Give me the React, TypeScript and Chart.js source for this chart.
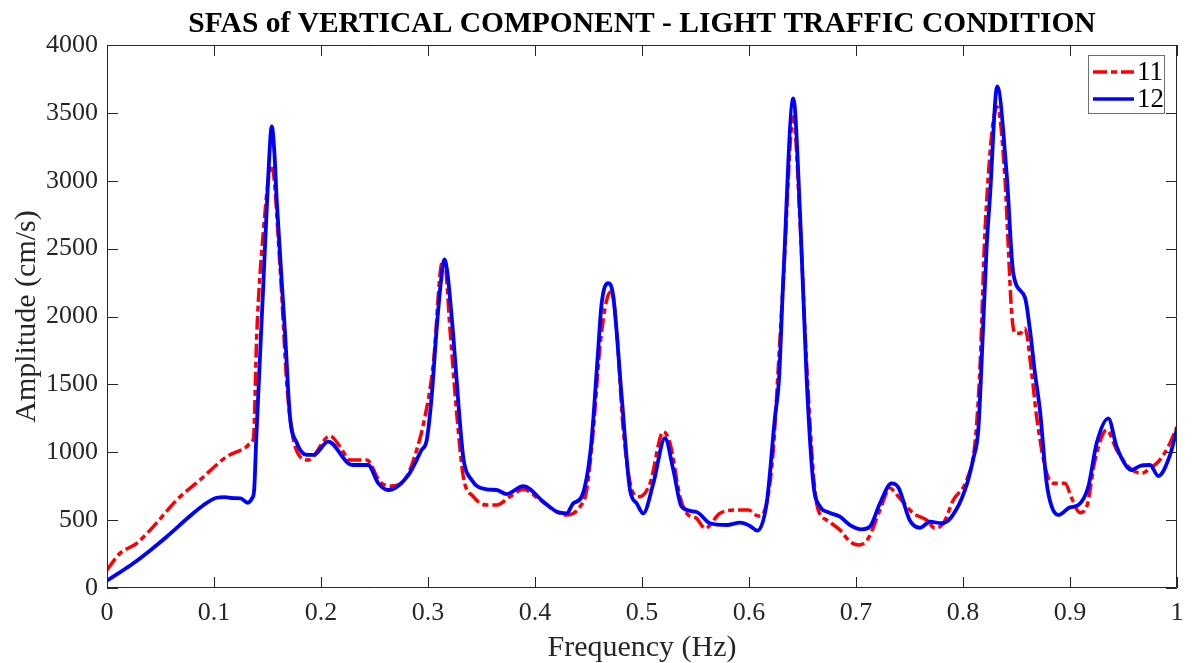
import React, { useEffect, useRef } from 'react';
import { Chart, registerables } from 'chart.js';

Chart.register(...registerables);

const TITLE = 'SFAS of VERTICAL COMPONENT - LIGHT TRAFFIC CONDITION';
const X_LABEL = 'Frequency (Hz)';
const Y_LABEL = 'Amplitude (cm/s)';
const SERIES_NAMES = ['11', '12'];
const X_TICKS = [0, 0.1, 0.2, 0.3, 0.4, 0.5, 0.6, 0.7, 0.8, 0.9, 1];
const Y_TICKS = [0, 500, 1000, 1500, 2000, 2500, 3000, 3500, 4000];

const freq11 = [
  0, 0.0121, 0.0277, 0.0433, 0.0651, 0.0869, 0.1118, 0.1305, 0.1336, 0.1368, 0.14, 0.146, 0.1539,
  0.1617, 0.168, 0.1726, 0.1804, 0.1881, 0.2084, 0.2178, 0.2271, 0.2427, 0.2551, 0.2645, 0.2722,
  0.2801, 0.2894, 0.2972, 0.305, 0.3128, 0.3153, 0.3206, 0.3268, 0.333, 0.3424, 0.3549, 0.3642,
  0.3766, 0.389, 0.4047, 0.4203, 0.4296, 0.4421, 0.4483, 0.4545, 0.4607, 0.467, 0.4716, 0.4763,
  0.4825, 0.4919, 0.4981, 0.5075, 0.5199, 0.5262, 0.5355, 0.5418, 0.551, 0.5589, 0.5729, 0.5885,
  0.5994, 0.6087, 0.6165, 0.6227, 0.6274, 0.632, 0.6414, 0.6477, 0.654, 0.6632, 0.6726, 0.685,
  0.6944, 0.7022, 0.7115, 0.7224, 0.7318, 0.7396, 0.7536, 0.766, 0.7738, 0.7816, 0.791, 0.8034,
  0.8112, 0.8159, 0.8206, 0.832, 0.8393, 0.8423, 0.8455, 0.8486, 0.8533, 0.8579, 0.8642, 0.8688,
  0.8782, 0.886, 0.8953, 0.9016, 0.9093, 0.9156, 0.9234, 0.9343, 0.9436, 0.9561, 0.967, 0.9748,
  0.9825, 0.9918, 1.0,
];
const amp11 = [
  133, 255, 329, 452, 648, 796, 967, 1041, 1066, 1100, 1876, 2613, 3116,
  2367, 1508, 1164, 967, 943, 1120, 1041, 943, 943, 783, 751, 759,
  820, 1017, 1262, 1655, 2392, 2410, 1900, 1287, 820, 673, 611, 611,
  673, 727, 648, 562, 538, 599, 722, 1164, 1778, 2122, 2183, 1900,
  1164, 698, 673, 771, 1151, 1066, 673, 550, 513, 440, 550, 575,
  575, 530, 624, 1017, 1630, 2250, 3472, 2700, 1630, 624, 501, 427,
  341, 317, 366, 575, 734, 673, 550, 501, 440, 477, 648, 796,
  1066, 1630, 2637, 3546, 3006, 2514, 2024, 1876, 1876, 1913, 1582, 1262,
  845, 771, 771, 661, 555, 599, 943, 1164, 1017, 882, 845, 882,
  930, 1041, 1188,
];

const freq12 = [
  0, 0.012, 0.0246, 0.04, 0.0558, 0.0776, 0.09, 0.1025, 0.11, 0.118, 0.125, 0.1315, 0.1355, 0.1375,
  0.1395, 0.146, 0.1505, 0.154, 0.1565, 0.1586, 0.1664, 0.171, 0.1773, 0.1866, 0.193, 0.2068,
  0.2255, 0.23, 0.244, 0.2536, 0.263, 0.2816, 0.294, 0.2988, 0.3034, 0.308, 0.312, 0.3153, 0.318,
  0.3237, 0.329, 0.333, 0.3408, 0.3549, 0.3642, 0.3735, 0.389, 0.4078, 0.4203, 0.4296, 0.4358,
  0.4436, 0.4523, 0.4586, 0.4623, 0.4685, 0.4732, 0.481, 0.4888, 0.495, 0.5012, 0.5106, 0.5215,
  0.5293, 0.537, 0.551, 0.5636, 0.5791, 0.5916, 0.601, 0.6078, 0.6165, 0.6243, 0.628, 0.632,
  0.6414, 0.6477, 0.6539, 0.6601, 0.6664, 0.6726, 0.685, 0.6944, 0.7053, 0.713, 0.7224, 0.7333,
  0.7396, 0.7505, 0.7598, 0.7692, 0.78, 0.7894, 0.8019, 0.8097, 0.8143, 0.8165, 0.8221, 0.8252,
  0.832, 0.8408, 0.847, 0.8579, 0.8626, 0.8673, 0.8719, 0.8782, 0.8829, 0.889, 0.9, 0.9078,
  0.9171, 0.9249, 0.9358, 0.9436, 0.953, 0.9576, 0.9654, 0.9748, 0.9825, 0.9935, 1.0,
];
const amp12 = [
  55, 115, 182, 275, 378, 530, 610, 665, 670, 662, 660, 628, 660, 720,
  1100, 2220, 3000, 3400, 3200, 2858, 1878, 1262, 1070, 980, 980, 1078,
  918, 906, 906, 771, 722, 832, 1017, 1090, 1409, 1900, 2250, 2421, 2330,
  1850, 1300, 960, 796, 727, 722, 692, 751, 636, 562, 550, 624,
  673, 1041, 1704, 2097, 2245, 2146, 1409, 722, 624, 550, 771, 1103,
  869, 599, 560, 477, 464, 481, 457, 422, 624, 1262, 1532, 2269,
  3607, 2760, 1532, 771, 599, 562, 525, 464, 432, 452, 624, 771,
  740, 495, 444, 488, 477, 525, 722, 955, 1164, 1500, 2514, 2882,
  3695, 3050, 2318, 2140, 1900, 1580, 1311, 771, 599, 538, 594, 611,
  746, 1066, 1250, 1041, 894, 869, 899, 906, 825, 980, 1176,
];

const RED = '#FF0000';
const BLUE = '#0000FF';
const AXIS_COLOR = '#262626';
const FONT = "'Liberation Serif', 'Times New Roman', serif";
const RED_DASH = [14, 4, 6, 4];

const boxPlugin = {
  id: 'matlabBox',
  afterDatasetsDraw(chart: any) {
    const { ctx, chartArea: a, scales } = chart;
    ctx.save();
    ctx.strokeStyle = AXIS_COLOR;
    ctx.lineWidth = 1;
    ctx.setLineDash([]);
    ctx.beginPath();
    ctx.rect(a.left + 0.5, a.top + 0.5, a.right - a.left - 1, a.bottom - a.top - 1);
    ctx.stroke();
    const tl = 11;
    ctx.beginPath();
    X_TICKS.forEach((v) => {
      const x = Math.round(scales.x.getPixelForValue(v)) + 0.5;
      ctx.moveTo(x, a.bottom);
      ctx.lineTo(x, a.bottom - tl);
      ctx.moveTo(x, a.top);
      ctx.lineTo(x, a.top + tl);
    });
    Y_TICKS.forEach((v) => {
      const y = Math.round(scales.y.getPixelForValue(v)) + 0.5;
      ctx.moveTo(a.left, y);
      ctx.lineTo(a.left + tl, y);
      ctx.moveTo(a.right, y);
      ctx.lineTo(a.right - tl, y);
    });
    ctx.stroke();

    // legend
    const lx = 1088.5, ly = 55.5, lw = 76, lh = 58;
    ctx.fillStyle = '#FFFFFF';
    ctx.fillRect(lx, ly, lw, lh);
    ctx.strokeStyle = '#707070';
    ctx.lineWidth = 1;
    ctx.strokeRect(lx, ly, lw, lh);
    const rows = [
      { name: SERIES_NAMES[0], color: RED, dash: RED_DASH, y: 72 },
      { name: SERIES_NAMES[1], color: BLUE, dash: [], y: 99 },
    ];
    rows.forEach((r) => {
      ctx.beginPath();
      ctx.strokeStyle = r.color;
      ctx.lineWidth = 3.5;
      ctx.setLineDash(r.dash);
      ctx.moveTo(1093, r.y);
      ctx.lineTo(1134, r.y);
      ctx.stroke();
      ctx.setLineDash([]);
      ctx.fillStyle = '#000000';
      ctx.font = `27px ${FONT}`;
      ctx.textAlign = 'left';
      ctx.textBaseline = 'middle';
      ctx.fillText(r.name, 1137, r.y + 1);
    });
    ctx.restore();
  },
};

export default function App() {
  const canvasRef = useRef<HTMLCanvasElement | null>(null);

  useEffect(() => {
    if (!canvasRef.current) return;
    const chart = new Chart(canvasRef.current, {
      type: 'line',
      data: {
        datasets: [
          {
            label: SERIES_NAMES[0],
            data: freq11.map((f, i) => ({ x: f, y: amp11[i] })),
            borderColor: RED,
            borderWidth: 3.5,
            borderDash: RED_DASH,
            pointRadius: 0,
            fill: false,
            cubicInterpolationMode: 'monotone',
            order: 1,
          },
          {
            label: SERIES_NAMES[1],
            data: freq12.map((f, i) => ({ x: f, y: amp12[i] })),
            borderColor: BLUE,
            borderWidth: 3.8,
            pointRadius: 0,
            fill: false,
            cubicInterpolationMode: 'monotone',
            order: 0,
          },
        ],
      },
      options: {
        animation: false,
        responsive: true,
        maintainAspectRatio: false,
        layout: { padding: { left: 0, right: 17, top: 0, bottom: 0 } },
        plugins: {
          legend: { display: false },
          tooltip: { enabled: false },
          title: {
            display: true,
            text: TITLE,
            fullSize: false,
            color: '#000000',
            font: { family: FONT, size: 29.5, weight: 'bold', lineHeight: 1.2 },
            padding: { top: 6.5, bottom: 3.1 },
          },
        },
        scales: {
          x: {
            type: 'linear',
            min: 0,
            max: 1,
            afterBuildTicks: (s: any) => {
              s.ticks = X_TICKS.map((v) => ({ value: v }));
            },
            afterFit: (s: any) => {
              s.height = 75;
            },
            grid: { display: false, drawTicks: false },
            border: { display: false },
            ticks: {
              color: AXIS_COLOR,
              font: { family: FONT, size: 26 },
              padding: 10,
              maxRotation: 0,
              autoSkip: false,
              callback: (v: any) => String(Math.round(Number(v) * 10) / 10),
            },
            title: {
              display: true,
              text: X_LABEL,
              color: AXIS_COLOR,
              font: { family: FONT, size: 30, lineHeight: 1 },
              padding: { top: 0, bottom: 0 },
            },
          },
          y: {
            type: 'linear',
            min: 0,
            max: 4000,
            afterBuildTicks: (s: any) => {
              s.ticks = Y_TICKS.map((v) => ({ value: v }));
            },
            afterFit: (s: any) => {
              s.width = 107;
            },
            grid: { display: false, drawTicks: false },
            border: { display: false },
            ticks: {
              color: AXIS_COLOR,
              font: { family: FONT, size: 26 },
              padding: 9,
              autoSkip: false,
              callback: (v: any) => String(v),
            },
            title: {
              display: true,
              text: Y_LABEL,
              color: AXIS_COLOR,
              font: { family: FONT, size: 30, lineHeight: 1 },
              padding: { top: 12, bottom: 0 },
            },
          },
        },
      },
      plugins: [boxPlugin],
    } as any);
    return () => chart.destroy();
  }, []);

  return (
    <div style={{ position: 'absolute', left: 0, top: 0, width: 1194, height: 663, background: '#FFFFFF' }}>
      <canvas ref={canvasRef} />
    </div>
  );
}
